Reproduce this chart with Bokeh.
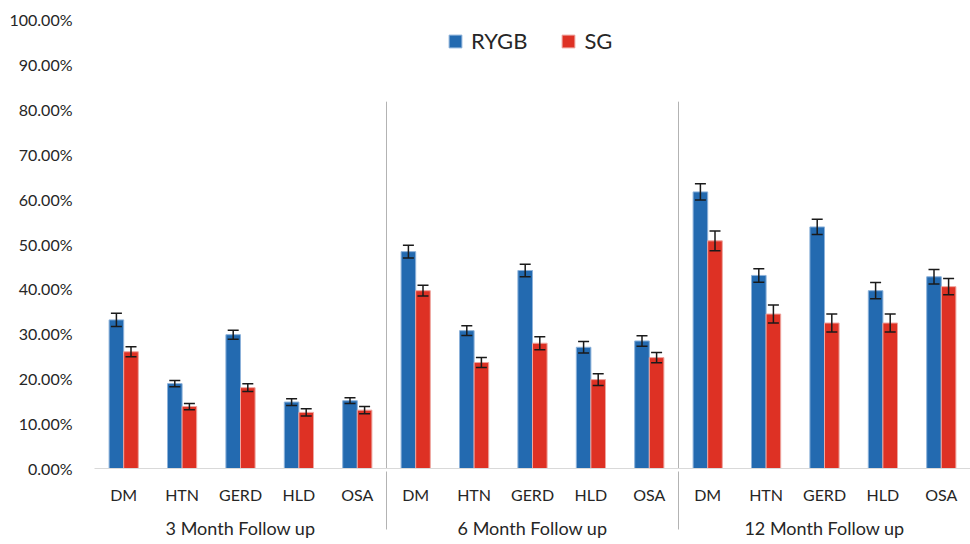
from bokeh.plotting import figure
from bokeh.models import (FactorRange, Range1d, ColumnDataSource, Whisker, TeeHead,
                          NumeralTickFormatter, Legend, LegendItem, FixedTicker)
from bokeh.transform import dodge
from bokeh.embed import file_html
from bokeh.resources import INLINE

periods = ["3 Month Follow up", "6 Month Follow up", "12 Month Follow up"]
conditions = ["DM", "HTN", "GERD", "HLD", "OSA"]

rygb_3 = [0.331, 0.189, 0.298, 0.148, 0.151]
rygb_3_err = [0.015, 0.007, 0.010, 0.0075, 0.0065]
sg_3 = [0.260, 0.138, 0.180, 0.125, 0.130]
sg_3_err = [0.011, 0.007, 0.0085, 0.008, 0.008]

rygb_6 = [0.483, 0.307, 0.441, 0.270, 0.284]
rygb_6_err = [0.014, 0.011, 0.014, 0.013, 0.0115]
sg_6 = [0.396, 0.236, 0.279, 0.198, 0.247]
sg_6_err = [0.012, 0.011, 0.0145, 0.013, 0.0115]

rygb_12 = [0.616, 0.430, 0.538, 0.396, 0.427]
rygb_12_err = [0.018, 0.015, 0.017, 0.018, 0.016]
sg_12 = [0.507, 0.344, 0.324, 0.324, 0.405]
sg_12_err = [0.022, 0.020, 0.020, 0.020, 0.018]

y_ticks = [0.0, 0.1, 0.2, 0.3, 0.4, 0.5, 0.6, 0.7, 0.8, 0.9, 1.0]

BLUE = "#236AB0"
RED = "#DE3124"
TXT = "#262626"
FONT = "Lato"

factors = [(p_, c) for p_ in periods for c in conditions]
rygb = rygb_3 + rygb_6 + rygb_12
rygb_err = rygb_3_err + rygb_6_err + rygb_12_err
sg = sg_3 + sg_6 + sg_12
sg_err = sg_3_err + sg_6_err + sg_12_err

src = ColumnDataSource(dict(
    x=factors,
    rygb=rygb,
    rygb_hi=[v + e for v, e in zip(rygb, rygb_err)],
    rygb_lo=[v - e for v, e in zip(rygb, rygb_err)],
    sg=sg,
    sg_hi=[v + e for v, e in zip(sg, sg_err)],
    sg_lo=[v - e for v, e in zip(sg, sg_err)],
))

x_range = FactorRange(*factors, factor_padding=0, group_padding=0, range_padding=0)

p = figure(width=970, height=544, x_range=x_range, y_range=Range1d(0, 1),
           output_backend="svg", toolbar_location=None,
           min_border_left=94, min_border_right=0, min_border_top=19, min_border_bottom=76)
p.outline_line_color = None
p.xgrid.grid_line_color = None
p.ygrid.grid_line_color = None
p.background_fill_color = "white"
p.border_fill_color = "white"

# group separators inside the plot area
bounds = [len(conditions) * i for i in range(1, len(periods))]
p.segment(x0=bounds, y0=[0] * len(bounds), x1=bounds, y1=[0.817] * len(bounds),
          line_color="#b3b3b3", line_width=1)

b1 = p.vbar(x=dodge("x", -0.125, range=p.x_range), top="rygb", width=0.25, source=src,
            fill_color=BLUE, line_color="#8db2da", line_width=1)
b2 = p.vbar(x=dodge("x", 0.125, range=p.x_range), top="sg", width=0.25, source=src,
            fill_color=RED, line_color="#eea59f", line_width=1)

for base, hi, lo in [(dodge("x", -0.125, range=p.x_range), "rygb_hi", "rygb_lo"),
                     (dodge("x", 0.125, range=p.x_range), "sg_hi", "sg_lo")]:
    w = Whisker(base=base, upper=hi, lower=lo, source=src, level="overlay",
                line_color="#1a1a1a", line_width=1.5,
                upper_head=TeeHead(size=11, line_color="#1a1a1a", line_width=1.5),
                lower_head=TeeHead(size=11, line_color="#1a1a1a", line_width=1.5))
    p.add_layout(w)

# y axis
yax = p.yaxis[0]
yax.ticker = FixedTicker(ticks=y_ticks)
yax.formatter = NumeralTickFormatter(format="0.00%")
yax.axis_line_color = None
yax.major_tick_line_color = None
yax.minor_tick_line_color = None
yax.major_label_standoff = 16
yax.major_label_text_font = FONT
yax.major_label_text_font_size = "16px"
yax.major_label_text_color = TXT

# x axis
xax = p.xaxis[0]
xax.axis_line_color = "#d9d9d9"
xax.axis_line_width = 1
xax.major_tick_line_color = None
xax.minor_tick_line_color = None
xax.major_label_standoff = 10
xax.major_label_text_font = FONT
xax.major_label_text_font_size = "16px"
xax.major_label_text_color = TXT
xax.group_text_font = FONT
xax.group_text_font_size = "18px"
xax.group_text_color = TXT
xax.group_text_font_style = "normal"
xax.separator_line_color = "#b3b3b3"
xax.separator_line_width = 1

legend = Legend(items=[LegendItem(label="RYGB", renderers=[b1]),
                       LegendItem(label="SG", renderers=[b2])],
                orientation="horizontal", location=(353, 414),
                padding=0, margin=0, spacing=33, label_standoff=8,
                glyph_width=16, glyph_height=16,
                label_text_font=FONT, label_text_font_size="22px",
                label_text_color=TXT, border_line_color=None,
                background_fill_alpha=0)
p.add_layout(legend)

open("out.html", "w").write(file_html(p, INLINE))
